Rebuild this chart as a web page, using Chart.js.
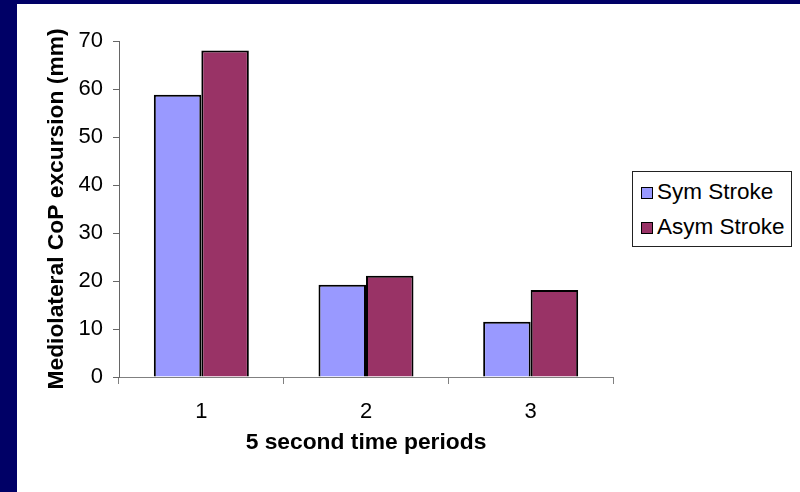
<!DOCTYPE html>
<html>
<head>
<meta charset="utf-8">
<script src="https://cdn.jsdelivr.net/npm/chart.js@4"></script>
<style>
  html, body { margin: 0; padding: 0; background: #000066; }
  #wrap { position: relative; width: 800px; height: 492px; }
  #legend {
    position: absolute; left: 632px; top: 171px; width: 158px; height: 72px;
    border: 1px solid #222; background: #fff; padding-top: 2px; box-sizing: content-box;
    font-family: "Liberation Sans", Arial, sans-serif; font-size: 22.5px; color: #000;
  }
  #legend .item { height: 35px; line-height: 35px; white-space: nowrap; }
  #legend .box {
    display: inline-block; width: 10px; height: 10px; border: 1.5px solid #000;
    margin-left: 8px; margin-right: 4px; vertical-align: 0px;
  }
</style>
</head>
<body>
<div id="wrap">
  <canvas id="chart" width="800" height="492"></canvas>
  <div id="legend"></div>
</div>
<script>
const periods = ['1', '2', '3'];
const symStroke = [58.8, 19.2, 11.5];
const asymStroke = [68.0, 21.1, 18.1];
const yTitle = 'Mediolateral CoP excursion (mm)';
const xTitle = '5 second time periods';

const font = "'Liberation Sans', Arial, sans-serif";

// navy frame with white slide panel
const background = {
    id: 'background',
    beforeDraw(chart) {
        const ctx = chart.ctx;
        ctx.save();
        ctx.fillStyle = '#000066';
        ctx.fillRect(0, 0, chart.width, chart.height);
        ctx.fillStyle = '#ffffff';
        ctx.fillRect(17, 4, chart.width - 17, chart.height - 4);
        ctx.restore();
    }
};

const ctx = document.getElementById('chart').getContext('2d');
const chart = new Chart(ctx, {
    type: 'bar',
    data: {
        labels: periods,
        datasets: [{
            label: 'Sym Stroke',
            data: symStroke,
            backgroundColor: '#9999FF',
            borderColor: '#000000',
            borderWidth: 2
        }, {
            label: 'Asym Stroke',
            data: asymStroke,
            backgroundColor: '#993366',
            borderColor: '#000000',
            borderWidth: 2
        }]
    },
    options: {
        responsive: false,
        animation: false,
        layout: { padding: { left: 17, top: 41, right: 187, bottom: 0 } },
        datasets: { bar: { categoryPercentage: 0.577, barPercentage: 1.0 } },
        plugins: {
            legend: { display: false },
            tooltip: { enabled: false }
        },
        scales: {
            x: {
                grid: { drawOnChartArea: false, tickLength: 7, color: '#808080', offset: true },
                border: { color: '#808080', width: 1 },
                ticks: { color: '#000', padding: 15, font: { family: font, size: 22 } },
                title: { display: true, text: xTitle, color: '#000', padding: { top: 0, bottom: 36 },
                         font: { family: font, size: 22.8, weight: 'bold' } },
                afterFit: (scale) => { scale.height = 115; }
            },
            y: {
                min: 0,
                max: 70,
                ticks: { stepSize: 10, color: '#000', padding: 10, font: { family: font, size: 22 } },
                grid: { drawOnChartArea: false, tickLength: 6, color: '#666' },
                border: { color: '#666', width: 1 },
                title: { display: true, text: yTitle, color: '#000', padding: { top: 26, bottom: 0 },
                         font: { family: font, size: 22.8, weight: 'bold' } },
                afterFit: (scale) => { scale.width = 102; }
            }
        }
    },
    plugins: [background]
});

// legend built from the chart's datasets
const legendEl = document.getElementById('legend');
chart.data.datasets.forEach(ds => {
    const item = document.createElement('div');
    item.className = 'item';
    const box = document.createElement('span');
    box.className = 'box';
    box.style.background = ds.backgroundColor;
    item.appendChild(box);
    item.appendChild(document.createTextNode(ds.label));
    legendEl.appendChild(item);
});
</script>
</body>
</html>
